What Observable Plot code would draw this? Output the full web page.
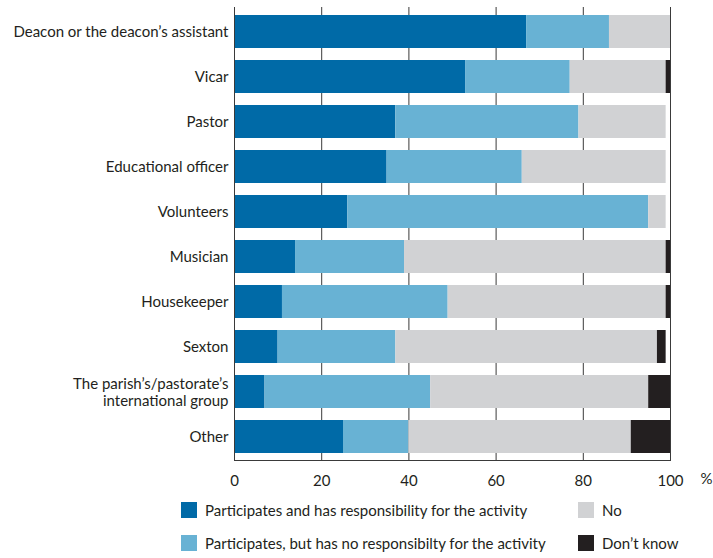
<!DOCTYPE html>
<html>
<head>
<meta charset="utf-8">
<script src="https://cdn.jsdelivr.net/npm/d3@7"></script>
<script src="https://cdn.jsdelivr.net/npm/@observablehq/plot@0.6"></script>
<style>
  body { margin: 0; background: #fff; font-family: Lato, "Noto Sans", sans-serif; color: #231f20; }
  #chart { position: relative; width: 713px; }
  .legend { position: relative; width: 713px; height: 68px; font-size: 15px; }
  .item { position: absolute; display: flex; align-items: center; }
  .sw { width: 16px; height: 16px; margin-right: 8px; }
</style>
</head>
<body>
<div id="chart"></div>
<div class="legend" id="legend"></div>
<script>
const roles = [
  "Deacon or the deacon’s assistant",
  "Vicar",
  "Pastor",
  "Educational officer",
  "Volunteers",
  "Musician",
  "Housekeeper",
  "Sexton",
  "The parish’s/pastorate’s\ninternational group",
  "Other"
];
const responses = [
  "Participates and has responsibility for the activity",
  "Participates, but has no responsibilty for the activity",
  "No",
  "Don’t know"
];
const colors = ["#006aa7", "#68b2d4", "#d1d2d4", "#231f20"];
const respWithResp = [67, 53, 37, 35, 26, 14, 11, 10, 7, 25];
const respNoResp   = [19, 24, 42, 31, 69, 25, 38, 27, 38, 15];
const respNo       = [14, 22, 20, 33,  4, 60, 50, 60, 50, 51];
const respDontKnow = [ 0,  1,  0,  0,  0,  1,  1,  2,  5,  9];
const xTicks = [0, 20, 40, 60, 80, 100];

const series = [respWithResp, respNoResp, respNo, respDontKnow];
const data = [];
roles.forEach((r, i) => series.forEach((s, j) => data.push({role: r, response: responses[j], value: s[i]})));

const plot = Plot.plot({
  width: 713,
  height: 490,
  marginLeft: 234,
  marginRight: 43,
  marginTop: 7,
  marginBottom: 30,
  style: {fontFamily: "Lato, 'Noto Sans', sans-serif", fontSize: "15px", color: "#231f20", background: "#fff"},
  x: {domain: [0, 100]},
  y: {domain: roles, paddingInner: 0.27, paddingOuter: 0.135},
  color: {domain: responses, range: colors},
  marks: [
    Plot.ruleX(xTicks, {stroke: "#3a3a3a", strokeWidth: 1}),
    Plot.barX(data, Plot.stackX({x: "value", y: "role", fill: "response", order: responses})),
    Plot.ruleX([0], {stroke: "#3a3a3a", strokeWidth: 1}),
    Plot.frame({anchor: "bottom", stroke: "#3a3a3a"}),
    Plot.axisY({tickSize: 0, tickPadding: 6, label: null, lineHeight: 1.1, fill: "#231f20"}),
    Plot.axisX({ticks: xTicks, tickSize: 0, tickPadding: 15, label: null, fill: "#231f20"}),
    Plot.text(["%"], {x: 100, frameAnchor: "bottom", dx: 36, dy: 23, fill: "#231f20"})
  ]
});
document.getElementById("chart").appendChild(plot);

const legendPos = [
  {left: 181, top: 11}, {left: 181, top: 44}, {left: 578, top: 11}, {left: 578, top: 44}
];
const leg = document.getElementById("legend");
responses.forEach((r, i) => {
  const d = document.createElement("div");
  d.className = "item";
  d.style.left = legendPos[i].left + "px";
  d.style.top = legendPos[i].top + "px";
  d.innerHTML = `<span class="sw" style="background:${colors[i]}"></span><span>${r}</span>`;
  leg.appendChild(d);
});
</script>
</body>
</html>
